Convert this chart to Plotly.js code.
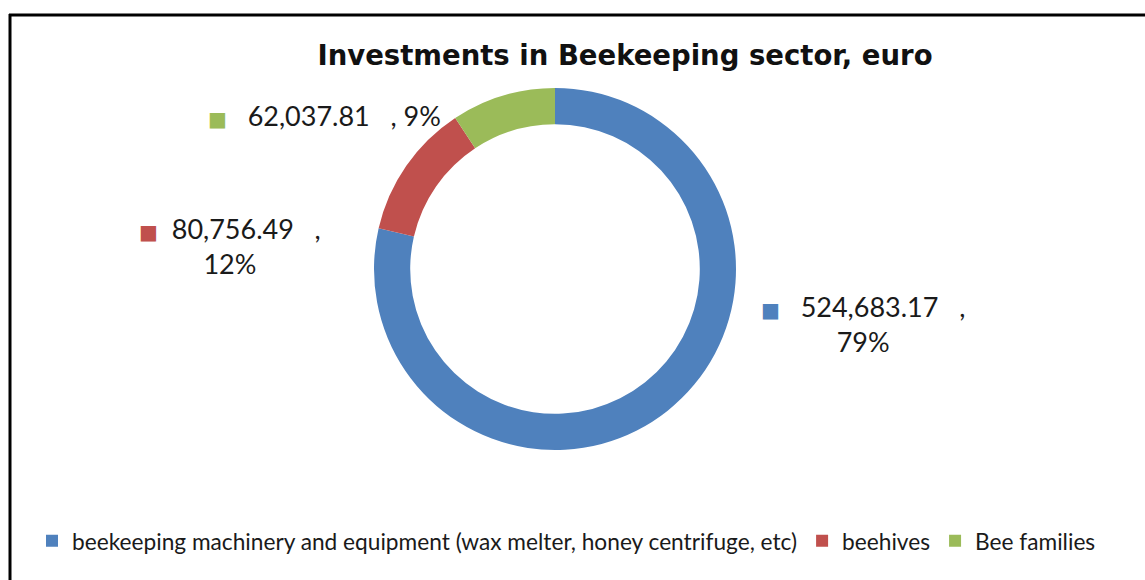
<!DOCTYPE html>
<html>
<head>
<meta charset="utf-8">
<script src="https://cdn.plot.ly/plotly-3.0.1.min.js"></script>
<style>
  html, body { margin: 0; padding: 0; background: #fff; }
  #chart { width: 1145px; height: 580px; }
</style>
</head>
<body>
<div id="chart"></div>
<script>
// ---- data ----
const categories = [
  "beekeeping machinery and equipment (wax melter, honey centrifuge, etc)",
  "beehives",
  "Bee families"
];
const values = [524683.17, 80756.49, 62037.81];
const percentLabels = ["79%", "12%", "9%"];
const colors = ["#4f81bd", "#c0504d", "#9bbb59"];
const chartTitle = "Investments in Beekeeping sector, euro";

// ---- helpers ----
const W = 1145, H = 580;
const px = x => x / W;
const py = y => 1 - y / H;
const NB = "\u00a0";
const fmt = v => v.toLocaleString("en-US", {minimumFractionDigits: 2, maximumFractionDigits: 2});
const sq = c => `<span style="color:${c};font-family:'DejaVu Sans';font-size:20px">■</span>`;

// label layout: [x, y, split onto two lines?, spaces after marker]
const labelPos = [
  [863, 324, true, 3],
  [230, 246, true, 2],
  [324, 115, false, 3]
];

const annotations = values.map((v, i) => {
  const [x, y, two, pad] = labelPos[i];
  const line1 = sq(colors[i]) + NB.repeat(pad) + fmt(v) + NB.repeat(3) + ",";
  const text = two ? line1 + "<br>" + percentLabels[i] : line1 + NB + percentLabels[i];
  return {
    xref: "paper", yref: "paper", x: px(x), y: py(y),
    xanchor: "center", yanchor: "middle", showarrow: false,
    text: text, align: "center",
    font: {family: "Lato, 'Open Sans', sans-serif", size: 27, color: "#1a1a1a"}
  };
});

const cx = 555, cy = 269, R = 181;

const trace = {
  type: "pie",
  labels: categories,
  values: values,
  hole: 0.8,
  sort: false,
  direction: "clockwise",
  rotation: 0,
  textinfo: "none",
  hoverinfo: "label+value+percent",
  marker: {colors: colors, line: {width: 0}},
  domain: {x: [px(cx - R), px(cx + R)], y: [py(cy + R), py(cy - R)]}
};

const layout = {
  width: W, height: H,
  margin: {l: 0, r: 0, t: 0, b: 0},
  paper_bgcolor: "#ffffff",
  title: {
    text: chartTitle,
    x: px(625), xanchor: "center",
    y: py(55), yanchor: "middle",
    font: {family: "'DejaVu Sans', sans-serif", size: 27.5, color: "#111", weight: "bold"}
  },
  showlegend: true,
  legend: {
    orientation: "h",
    x: px(32), xanchor: "left",
    y: py(541), yanchor: "middle",
    font: {family: "Lato, 'Open Sans', sans-serif", size: 22.7, color: "#1a1a1a"},
    itemwidth: 30
  },
  annotations: annotations,
  shapes: [
    {type: "line", xref: "paper", yref: "paper", x0: px(10), x1: px(10), y0: py(14), y1: -0.05, line: {color: "#000", width: 3}},
    {type: "line", xref: "paper", yref: "paper", x0: px(9), x1: 1.05, y0: py(15), y1: py(15), line: {color: "#000", width: 3}}
  ]
};

Plotly.newPlot("chart", [trace], layout, {displayModeBar: false, staticPlot: true});
</script>
</body>
</html>
